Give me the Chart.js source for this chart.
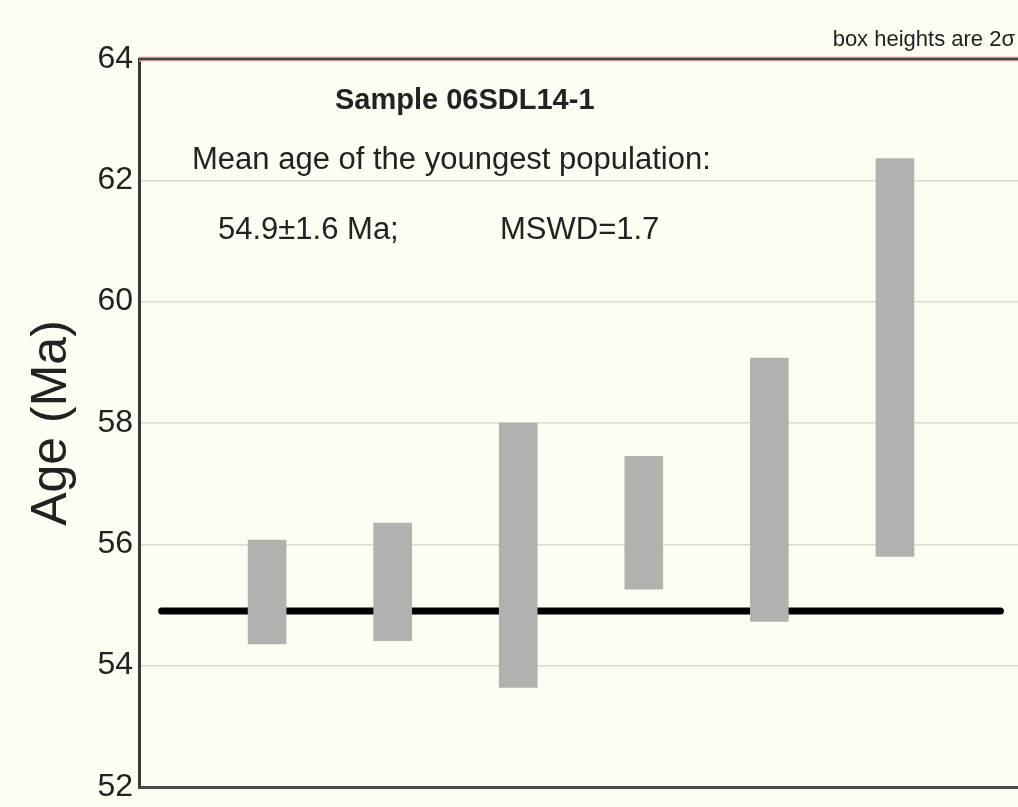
<!DOCTYPE html>
<html>
<head>
<meta charset="utf-8">
<script src="https://cdn.jsdelivr.net/npm/chart.js"></script>
<style>
  html, body { margin: 0; padding: 0; background: #fffdf3; }
  #wrap { width: 1018px; height: 807px; }
</style>
</head>
<body>
<div id="wrap"><canvas id="ageChart"></canvas></div>
<script>
// Grain positions and 2-sigma age ranges (Ma)
const grainPositions = [1, 2, 3, 4, 5, 6];
const ageLow  = [54.36, 54.41, 53.64, 55.26, 54.73, 55.80];
const ageHigh = [56.07, 56.35, 58.00, 57.45, 59.07, 62.36];

// Weighted mean of the youngest population
const meanAge = 54.9;
const meanLineX = [0.16, 6.84];

// Axis ticks
const yTicks = [52, 54, 56, 58, 60, 62, 64];

const textColor = '#222222';
const fontFamily = '"Liberation Sans", Arial, sans-serif';

// Annotation text inside the plot
const annotationPlugin = {
    id: 'annotations',
    afterDraw(chart) {
        const ctx = chart.ctx;
        const area = chart.chartArea;
        ctx.save();
        // Top frame line
        ctx.strokeStyle = '#e8b8a8';
        ctx.lineWidth = 5;
        ctx.beginPath();
        ctx.moveTo(area.left, area.top);
        ctx.lineTo(area.right, area.top);
        ctx.stroke();
        ctx.strokeStyle = '#3a4548';
        ctx.lineWidth = 2.5;
        ctx.beginPath();
        ctx.moveTo(area.left - 1, area.top);
        ctx.lineTo(area.right, area.top);
        ctx.stroke();

        ctx.fillStyle = textColor;
        ctx.textBaseline = 'middle';
        ctx.textAlign = 'left';
        ctx.font = 'bold 29px ' + fontFamily;
        ctx.fillText('Sample 06SDL14-1', 335, 101);
        ctx.font = '31px ' + fontFamily;
        ctx.fillText('Mean age of the youngest population:', 192, 160);
        ctx.fillText('54.9\u00b11.6 Ma;', 218, 230);
        ctx.fillText('MSWD=1.7', 500, 230);
        ctx.font = '22px ' + fontFamily;
        ctx.textAlign = 'right';
        ctx.fillText('box heights are 2\u03c3', 1015, 40);
        ctx.restore();
    }
};

new Chart(document.getElementById('ageChart'), {
    type: 'bar',
    data: {
        datasets: [
            {
                type: 'bar',
                data: grainPositions.map((x, i) => ({ x: x, y: [ageLow[i], ageHigh[i]] })),
                backgroundColor: '#b3b1ad',
                borderWidth: 0,
                barThickness: 38,
                order: 0
            },
            {
                type: 'line',
                data: meanLineX.map(x => ({ x: x, y: meanAge })),
                borderColor: '#000000',
                borderWidth: 7,
                borderCapStyle: 'round',
                pointRadius: 0,
                fill: false,
                order: 1
            }
        ]
    },
    options: {
        responsive: true,
        maintainAspectRatio: false,
        animation: false,
        layout: { padding: { top: 59, bottom: 20, left: 22, right: 0 } },
        plugins: {
            legend: { display: false },
            tooltip: { enabled: false }
        },
        scales: {
            x: {
                type: 'linear',
                min: -0.02,
                max: 6.98,
                offset: false,
                grid: { display: false },
                ticks: { display: false },
                border: { display: true, color: '#4a4a4a', width: 3 },
                afterFit: (scale) => { scale.height = 0; }
            },
            y: {
                min: 52,
                max: 64,
                afterBuildTicks: (scale) => { scale.ticks = yTicks.map(v => ({ value: v })); },
                grid: {
                    color: (c) => (c.tick && (c.tick.value === 52 || c.tick.value === 64)) ? 'rgba(0,0,0,0)' : '#dcd8d4',
                    lineWidth: 1.5,
                    drawTicks: false
                },
                border: { display: true, color: '#3a3a3a', width: 3 },
                ticks: {
                    color: textColor,
                    font: { size: 32, family: fontFamily, lineHeight: 0.6 },
                    padding: 6
                },
                title: {
                    display: true,
                    text: 'Age (Ma)',
                    color: textColor,
                    font: { size: 50, family: fontFamily },
                    padding: { top: 0, bottom: 0 }
                },
                afterFit: (scale) => { scale.width = 117; }
            }
        }
    },
    plugins: [annotationPlugin]
});
</script>
</body>
</html>
